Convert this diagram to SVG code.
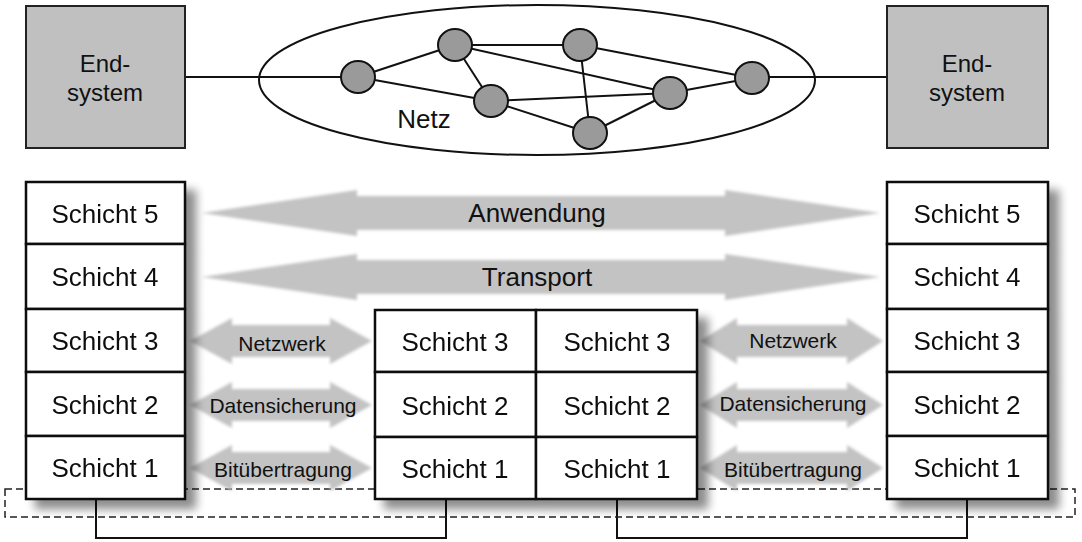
<svg xmlns="http://www.w3.org/2000/svg" width="1082" height="542" viewBox="0 0 1082 542">
  <defs>
    <filter id="shadow" x="-20%" y="-20%" width="150%" height="150%">
      <feGaussianBlur in="SourceAlpha" stdDeviation="5"/>
      <feOffset dx="10" dy="9" result="b"/>
      <feComponentTransfer><feFuncA type="linear" slope="0.45"/></feComponentTransfer>
      <feMerge><feMergeNode/><feMergeNode in="SourceGraphic"/></feMerge>
    </filter>
    <filter id="soft" x="-5%" y="-20%" width="110%" height="140%">
      <feGaussianBlur stdDeviation="1.5"/>
    </filter>
  </defs>
  <style>
    text { font-family: "Liberation Sans", Arial, sans-serif; fill: #111; text-anchor: middle; }
    .big { font-size: 26px; }
    .es-t { font-size: 24px; }
    .small { font-size: 21px; }
    .es { fill: #c0c0c0; stroke: #222; stroke-width: 2; }
    .cell { fill: #fff; stroke: #111; stroke-width: 2.5; }
    .nd { fill: #9a9a9a; stroke: #111; stroke-width: 2; }
    .edge { stroke: #111; stroke-width: 2; fill: none; }
    .arrow { fill: #c3c3c3; }
    .dash { fill: none; stroke: #222; stroke-width: 1.5; stroke-dasharray: 7,4; }
  </style>
  <rect width="1082" height="542" fill="#fff"/>

  <!-- connectors -->
  <g id="connectors">
    <line class="edge" x1="185" y1="77" x2="341" y2="77"/>
    <line class="edge" x1="769" y1="77" x2="887" y2="77"/>
    <ellipse cx="537" cy="80" rx="278" ry="75" fill="none" stroke="#111" stroke-width="2"/>
    <line class="edge" x1="358" y1="77" x2="455" y2="45"/>
    <line class="edge" x1="358" y1="77" x2="491" y2="101"/>
    <line class="edge" x1="455" y1="45" x2="580" y2="45"/>
    <line class="edge" x1="455" y1="45" x2="491" y2="101"/>
    <line class="edge" x1="455" y1="45" x2="670" y2="93"/>
    <line class="edge" x1="580" y1="45" x2="590" y2="133"/>
    <line class="edge" x1="580" y1="45" x2="752" y2="78"/>
    <line class="edge" x1="491" y1="101" x2="670" y2="93"/>
    <line class="edge" x1="491" y1="101" x2="590" y2="133"/>
    <line class="edge" x1="590" y1="133" x2="670" y2="93"/>
    <line class="edge" x1="670" y1="93" x2="752" y2="78"/>
    <polyline class="edge" points="96,499 96,538 446,538 446,499"/>
    <polyline class="edge" points="617,499 617,538 967,538 967,499"/>
  </g>

  <g id="netz">
    <ellipse class="nd" cx="358" cy="77" rx="17" ry="16"/>
    <ellipse class="nd" cx="455" cy="45" rx="17" ry="16"/>
    <ellipse class="nd" cx="580" cy="45" rx="17" ry="16"/>
    <ellipse class="nd" cx="491" cy="101" rx="17" ry="16"/>
    <ellipse class="nd" cx="670" cy="93" rx="17" ry="16"/>
    <ellipse class="nd" cx="590" cy="133" rx="17" ry="16"/>
    <ellipse class="nd" cx="752" cy="78" rx="17" ry="16"/>
    <text class="big" x="424" y="128">Netz</text>
  </g>

  <g id="endsystem-left">
    <rect class="es" x="26" y="6" width="159" height="142"/>
    <text class="es-t" x="105" y="72">End-</text>
    <text class="es-t" x="105" y="101">system</text>
  </g>
  <g id="endsystem-right">
    <rect class="es" x="887" y="6" width="161" height="142"/>
    <text class="es-t" x="967" y="72">End-</text>
    <text class="es-t" x="967" y="101">system</text>
  </g>

  <!-- dashed medium -->
  <g id="medium">
    <rect class="dash" x="5" y="489" width="1070" height="28"/>
  </g>

  <!-- protocol arrows -->
  <g id="arrows" filter="url(#soft)">
    <polygon class="arrow" points="202,213 357,190 357,196 725,196 725,190 880,213 725,236 725,230 357,230 357,236"/>
    <polygon class="arrow" points="202,277 357,254 357,260 725,260 725,254 880,277 725,300 725,294 357,294 357,300"/>
    <polygon class="arrow" points="190,341 232,318 232,325 330,325 330,318 372,341 330,364 330,357 232,357 232,364"/>
    <polygon class="arrow" points="190,405 232,382 232,389 330,389 330,382 372,405 330,428 330,421 232,421 232,428"/>
    <polygon class="arrow" points="190,468 232,445 232,452 330,452 330,445 372,468 330,491 330,484 232,484 232,491"/>
    <polygon class="arrow" points="700,341 737,318 737,325 847,325 847,318 883,341 847,364 847,357 737,357 737,364"/>
    <polygon class="arrow" points="700,405 737,382 737,389 847,389 847,382 883,405 847,428 847,421 737,421 737,428"/>
    <polygon class="arrow" points="700,468 737,445 737,452 847,452 847,445 883,468 847,491 847,484 737,484 737,491"/>
  </g>
  <g id="arrow-labels">
    <text class="big" x="537" y="222">Anwendung</text>
    <text class="big" x="537" y="286">Transport</text>
    <text class="small" x="282" y="351">Netzwerk</text>
    <text class="small" x="283" y="413">Datensicherung</text>
    <text class="small" x="283" y="477">Bitübertragung</text>
    <text class="small" x="793" y="348">Netzwerk</text>
    <text class="small" x="793" y="411">Datensicherung</text>
    <text class="small" x="793" y="477">Bitübertragung</text>
  </g>

  <g id="stack-left" filter="url(#shadow)">
    <rect class="cell" x="26" y="182" width="159" height="62"/>
    <rect class="cell" x="26" y="244" width="159" height="65"/>
    <rect class="cell" x="26" y="309" width="159" height="63"/>
    <rect class="cell" x="26" y="372" width="159" height="64"/>
    <rect class="cell" x="26" y="436" width="159" height="63"/>
    <text class="big" x="105" y="223">Schicht 5</text>
    <text class="big" x="105" y="286">Schicht 4</text>
    <text class="big" x="105" y="350">Schicht 3</text>
    <text class="big" x="105" y="414">Schicht 2</text>
    <text class="big" x="105" y="477">Schicht 1</text>
  </g>

  <g id="stack-middle" filter="url(#shadow)">
    <rect class="cell" x="375" y="310" width="161" height="62"/>
    <rect class="cell" x="375" y="372" width="161" height="65"/>
    <rect class="cell" x="375" y="437" width="161" height="62"/>
    <rect class="cell" x="536" y="310" width="161" height="62"/>
    <rect class="cell" x="536" y="372" width="161" height="65"/>
    <rect class="cell" x="536" y="437" width="161" height="62"/>
    <text class="big" x="455" y="351">Schicht 3</text>
    <text class="big" x="455" y="415">Schicht 2</text>
    <text class="big" x="455" y="478">Schicht 1</text>
    <text class="big" x="617" y="351">Schicht 3</text>
    <text class="big" x="617" y="415">Schicht 2</text>
    <text class="big" x="617" y="478">Schicht 1</text>
  </g>

  <g id="stack-right" filter="url(#shadow)">
    <rect class="cell" x="887" y="182" width="161" height="62"/>
    <rect class="cell" x="887" y="244" width="161" height="65"/>
    <rect class="cell" x="887" y="309" width="161" height="63"/>
    <rect class="cell" x="887" y="372" width="161" height="64"/>
    <rect class="cell" x="887" y="436" width="161" height="63"/>
    <text class="big" x="967" y="223">Schicht 5</text>
    <text class="big" x="967" y="286">Schicht 4</text>
    <text class="big" x="967" y="350">Schicht 3</text>
    <text class="big" x="967" y="414">Schicht 2</text>
    <text class="big" x="967" y="477">Schicht 1</text>
  </g>
</svg>
